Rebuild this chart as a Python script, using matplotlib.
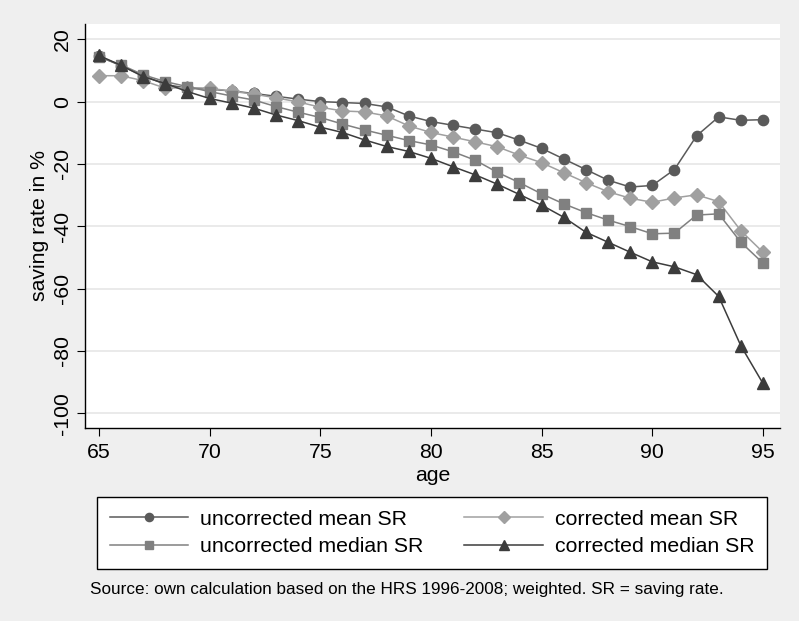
import numpy as np
import matplotlib
matplotlib.use("Agg")
import matplotlib.pyplot as plt

plt.rcParams['font.family'] = ['Liberation Sans', 'DejaVu Sans']
plt.rcParams['axes.unicode_minus'] = False

age = list(range(65, 96))

# saving rates in %
unc_mean = [14.5, 11.5, 8.3, 5.5, 4.3, 4.0, 3.4, 2.6, 1.7, 0.8, 0.0, -0.3, -0.6, -1.7, -4.6,
            -6.4, -7.6, -8.8, -10.0, -12.4, -15.0, -18.4, -21.8, -25.2, -27.4, -26.9,
            -21.8, -11.0, -4.9, -6.0, -5.8]
cor_mean = [8.3, 8.3, 6.7, 4.3, 4.5, 4.3, 3.3, 2.4, 1.2, -0.1, -1.8, -3.0, -3.3, -4.6, -7.8,
            -9.9, -11.4, -12.9, -14.5, -17.2, -19.6, -22.8, -26.0, -28.9, -31.0, -32.3,
            -30.9, -29.9, -32.1, -41.4, -48.3]
unc_median = [14.3, 11.8, 8.6, 6.4, 4.8, 3.2, 1.8, 0.5, -1.6, -3.4, -5.1, -7.2, -9.1, -10.8,
              -12.5, -13.9, -16.1, -18.8, -22.7, -26.0, -29.6, -32.8, -35.6, -38.0, -40.1,
              -42.4, -42.2, -36.4, -36.0, -45.1, -51.8]
cor_median = [14.8, 11.6, 8.0, 5.8, 3.2, 1.0, -0.5, -2.1, -4.3, -6.1, -8.2, -9.9, -12.3,
              -14.4, -16.0, -18.2, -20.9, -23.5, -26.5, -29.8, -33.2, -37.1, -41.9, -45.1,
              -48.3, -51.4, -53.0, -55.5, -62.5, -78.3, -90.4]

labels = ["uncorrected mean SR", "corrected mean SR",
          "uncorrected median SR", "corrected median SR"]
xticks = [65, 70, 75, 80, 85, 90, 95]
yticks = [20, 0, -20, -40, -60, -80, -100]

bg = '#efefef'
fs = 15.3
fig = plt.figure(figsize=(7.99, 6.21), dpi=100, facecolor=bg)
ax = fig.add_axes([0.1064, 0.3108, 0.8698, 0.6506])
ax.set_facecolor('white')

h1, = ax.plot(age, unc_mean, '-o', color='#5a5a5a', lw=1.1, ms=7.4, label=labels[0])
h2, = ax.plot(age, cor_mean, '-D', color='#a0a0a0', lw=1.1, ms=7.5, label=labels[1])
h3, = ax.plot(age, unc_median, '-s', color='#808080', lw=1.1, ms=7.0, label=labels[2])
h4, = ax.plot(age, cor_median, '-^', color='#3c3c3c', lw=1.1, ms=8.5, label=labels[3])

ax.set_xlim(64.37, 95.77)
ax.set_ylim(-104.7, 24.9)
ax.set_xticks(xticks)
ax.set_yticks(yticks)
ax.tick_params(axis='both', labelsize=fs, length=6, width=0.8, direction='out')
ax.tick_params(axis='x', pad=5)
for lab in ax.get_yticklabels():
    lab.set_rotation(90)
    lab.set_va('center')
ax.yaxis.grid(True, color='#e6e6e6', lw=1.2)
ax.set_axisbelow(True)
for s in ['top', 'right']:
    ax.spines[s].set_visible(False)
ax.spines['left'].set_linewidth(1.0)
ax.spines['bottom'].set_linewidth(1.0)

ax.set_xlabel("age", fontsize=fs, labelpad=3)
ax.set_ylabel("saving rate in %", fontsize=fs, labelpad=3)

leg = fig.legend([h1, h3, h2, h4], [labels[0], labels[2], labels[1], labels[3]],
                 ncol=2, loc='upper left', mode='expand', borderaxespad=0,
                 bbox_to_anchor=(0.1214, 0.0853, 0.8386, 0.1144),
                 fontsize=fs, handlelength=3.7, handletextpad=0.55, columnspacing=1.6,
                 labelspacing=0.4, borderpad=0.6, markerscale=0.8,
                 fancybox=False, frameon=True, edgecolor='black', framealpha=1)
leg.get_frame().set_linewidth(1.0)

fig.text(0.1126, 0.051, "Source: own calculation based on the HRS 1996-2008; weighted. SR = saving rate.",
         fontsize=12.3, va='center', ha='left')

fig.savefig('out.png', dpi=100, facecolor=bg)
